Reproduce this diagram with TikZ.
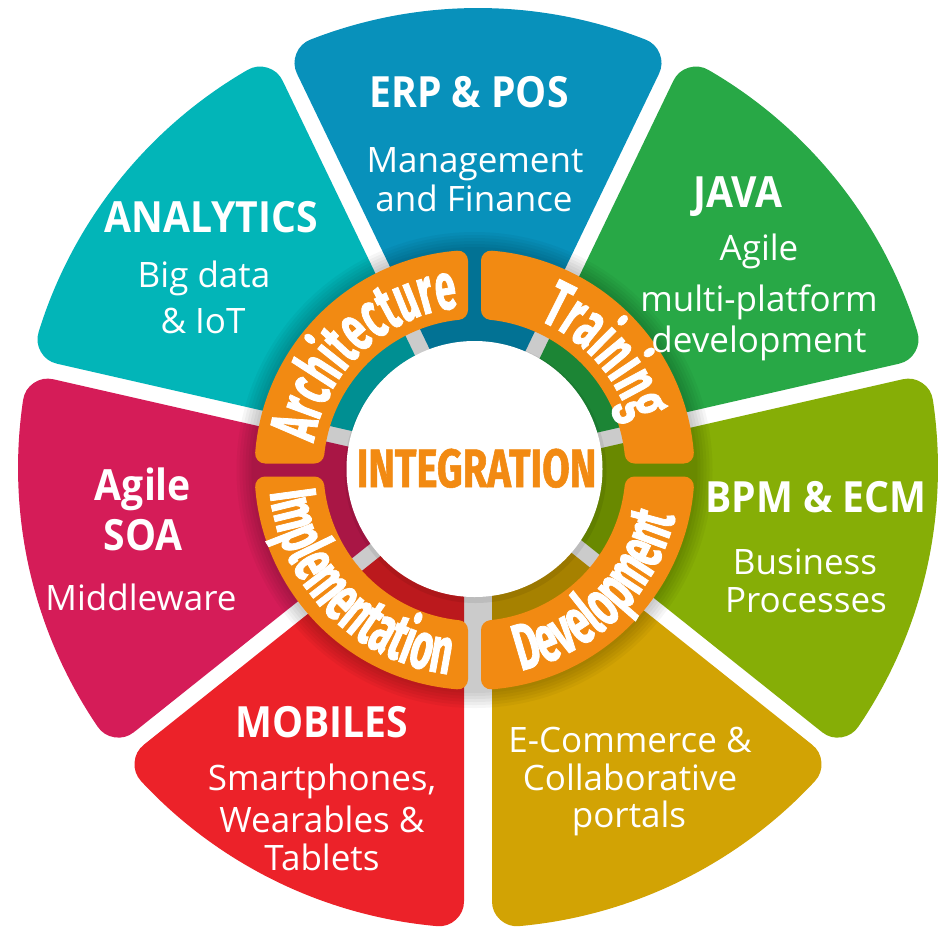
\documentclass[tikz,border=0pt]{standalone}
\usepackage{fontspec}
\usetikzlibrary{decorations.text}
\setmainfont{Open Sans}
\newfontfamily\headfont[FakeStretch=0.91]{Open Sans}
\IfFontExistsTF{Fira Sans Black}
 {\newfontfamily\ringfont[FakeStretch=0.57,FakeBold=1.2]{Fira Sans Black}
  \newfontfamily\integfont[FakeStretch=0.74,FakeBold=1]{Fira Sans Black}}
 {\IfFontExistsTF{Fira Sans ExtraBold}
   {\newfontfamily\ringfont[FakeStretch=0.57,FakeBold=1.2]{Fira Sans ExtraBold}
    \newfontfamily\integfont[FakeStretch=0.74,FakeBold=1]{Fira Sans ExtraBold}}
   {\newfontfamily\ringfont[FakeStretch=0.57,FakeBold=1.2]{Fira Sans}
    \newfontfamily\integfont[FakeStretch=0.74,FakeBold=1]{Fira Sans}}}
\newcommand\ringtxt{\ringfont\bfseries\fontsize{66}{66}\selectfont}
\definecolor{cteal}{HTML}{02B5B8}
\definecolor{cblue}{HTML}{0891BB}
\definecolor{cgreen}{HTML}{28A846}
\definecolor{colive}{HTML}{86AE06}
\definecolor{cgold}{HTML}{D2A304}
\definecolor{cred}{HTML}{EC2229}
\definecolor{cmag}{HTML}{D51C58}
\definecolor{corange}{HTML}{F28A12}
% #1 rotation, #2 colour, #3 lower half-gap, #4 upper half-gap
\newcommand\petal[4]{%
 \begin{scope}[rotate=#1]
 \pgfmathsetmacro\pDa{#3+25}
 \pgfmathsetmacro\pDb{#4+25}
 \pgfmathsetmacro\pLa{-25.714+asin(\pDa/435)}
 \pgfmathsetmacro\pUa{25.714-asin(\pDb/435)}
 \pgfmathsetmacro\pLx{100*cos(25.714)+\pDa*sin(25.714)}
 \pgfmathsetmacro\pLy{-100*sin(25.714)+\pDa*cos(25.714)}
 \pgfmathsetmacro\pUx{100*cos(25.714)+\pDb*sin(25.714)}
 \pgfmathsetmacro\pUy{100*sin(25.714)-\pDb*cos(25.714)}
 \filldraw[fill=#2,draw=#2,line width=50pt,line join=round]
   (\pLx,\pLy) -- (\pLa:435) arc[start angle=\pLa,end angle=\pUa,radius=435]
   -- (\pUx,\pUy) -- cycle;
 \end{scope}}
\begin{document}
\begin{tikzpicture}[x=1pt,y=1pt,
  head/.style={text=white,font=\headfont\bfseries\fontsize{43}{43}\selectfont,anchor=base,inner sep=0pt},
  sub/.style={text=white,font=\fontsize{35}{35}\selectfont,anchor=base,inner sep=0pt},
  ringpiece/.style={fill=corange,draw=corange,line width=20pt,line join=round},
  ringlabel/.style={decorate,decoration={text along path,text align=center,text color=white,text={|\ringtxt|#1}}}]
\useasboundingbox (0,0) rectangle (945,-930);
\fill[white] (0,0) rectangle (945,-930);
\begin{scope}[shift={(478,-468)}]
 \petal{90}{cblue}{8}{8}
 \petal{38.571}{cgreen}{8}{8}
 \petal{-12.857}{colive}{8}{8}
 \petal{-64.286}{cgold}{14}{8}
 \petal{-115.714}{cred}{8}{14}
 \petal{192.857}{cmag}{8}{8}
 \petal{141.429}{cteal}{8}{8}
\end{scope}
\begin{scope}[shift={(474.5,-470)}]
 \foreach \k in {1,...,6} \fill[black,opacity=0.035] (0,0) circle ({220+3*\k});
 \foreach \r in {0,90,180,270}{
   \begin{scope}[rotate=\r]
   \filldraw[ringpiece] (5.883:161) -- (4.507:210) arc[start angle=4.507,end angle=85.493,radius=210]
     -- (84.117:161) arc[start angle=84.117,end angle=5.883,radius=161] -- cycle;
   \end{scope}}
 \path[ringlabel=Architecture] (183:163) arc[start angle=183,end angle=83,radius=163];
 \path[ringlabel=Training] (92:163) arc[start angle=92,end angle=-8,radius=163];
 \path[ringlabel=Implementation] (174.5:206) arc[start angle=174.5,end angle=274.5,radius=206];
 \path[ringlabel=Development] (265:206) arc[start angle=265,end angle=365,radius=206];
 \fill[black,opacity=0.07] (1,-2) circle (131);
 \fill[white] (0,1) circle (128);
\end{scope}
\node[anchor=base,inner sep=0pt,text=corange,font=\integfont\bfseries\fontsize{54}{54}\selectfont] (integ) at (476.5,-487) {INTEGRATION};
% ERP
\node[head] (erpH) at (469,-107) {ERP \& POS};
\node[sub] (erpS1) at (475,-172) {Management};
\node[sub] (erpS2) at (474,-211) {and Finance};
% ANALYTICS
\node[head] (anaH) at (211,-232) {ANALYTICS};
\node[sub] (anaS1) at (204,-287) {Big data};
\node[sub] (anaS2) at (203,-333) {\& IoT};
% JAVA
\node[head] (javaH) at (738,-207) {JAVA};
\node[sub] (javaS1) at (759,-260) {Agile};
\node[sub] (javaS2) at (759,-311) {multi-platform};
\node[sub] (javaS3) at (759,-352) {development};
% SOA
\node[head] (soaH1) at (143,-500) {Agile};
\node[head] (soaH2) at (143,-550) {SOA};
\node[sub] (soaS1) at (141,-610) {Middleware};
% BPM
\node[head] (bpmH) at (816,-512) {BPM \& ECM};
\node[sub] (bpmS1) at (805,-574) {Business};
\node[sub] (bpmS2) at (806,-612) {Processes};
% MOBILES
\node[head] (mobH) at (322,-737) {MOBILES};
\node[sub] (mobS1) at (322,-790) {Smartphones,};
\node[sub] (mobS2) at (322,-832) {Wearables \&};
\node[sub] (mobS3) at (322,-870) {Tablets};
% E-Commerce
\node[sub] (ecoS1) at (630,-752) {E-Commerce \&};
\node[sub] (ecoS2) at (630,-790) {Collaborative};
\node[sub] (ecoS3) at (629,-827) {portals};
\end{tikzpicture}
\end{document}
